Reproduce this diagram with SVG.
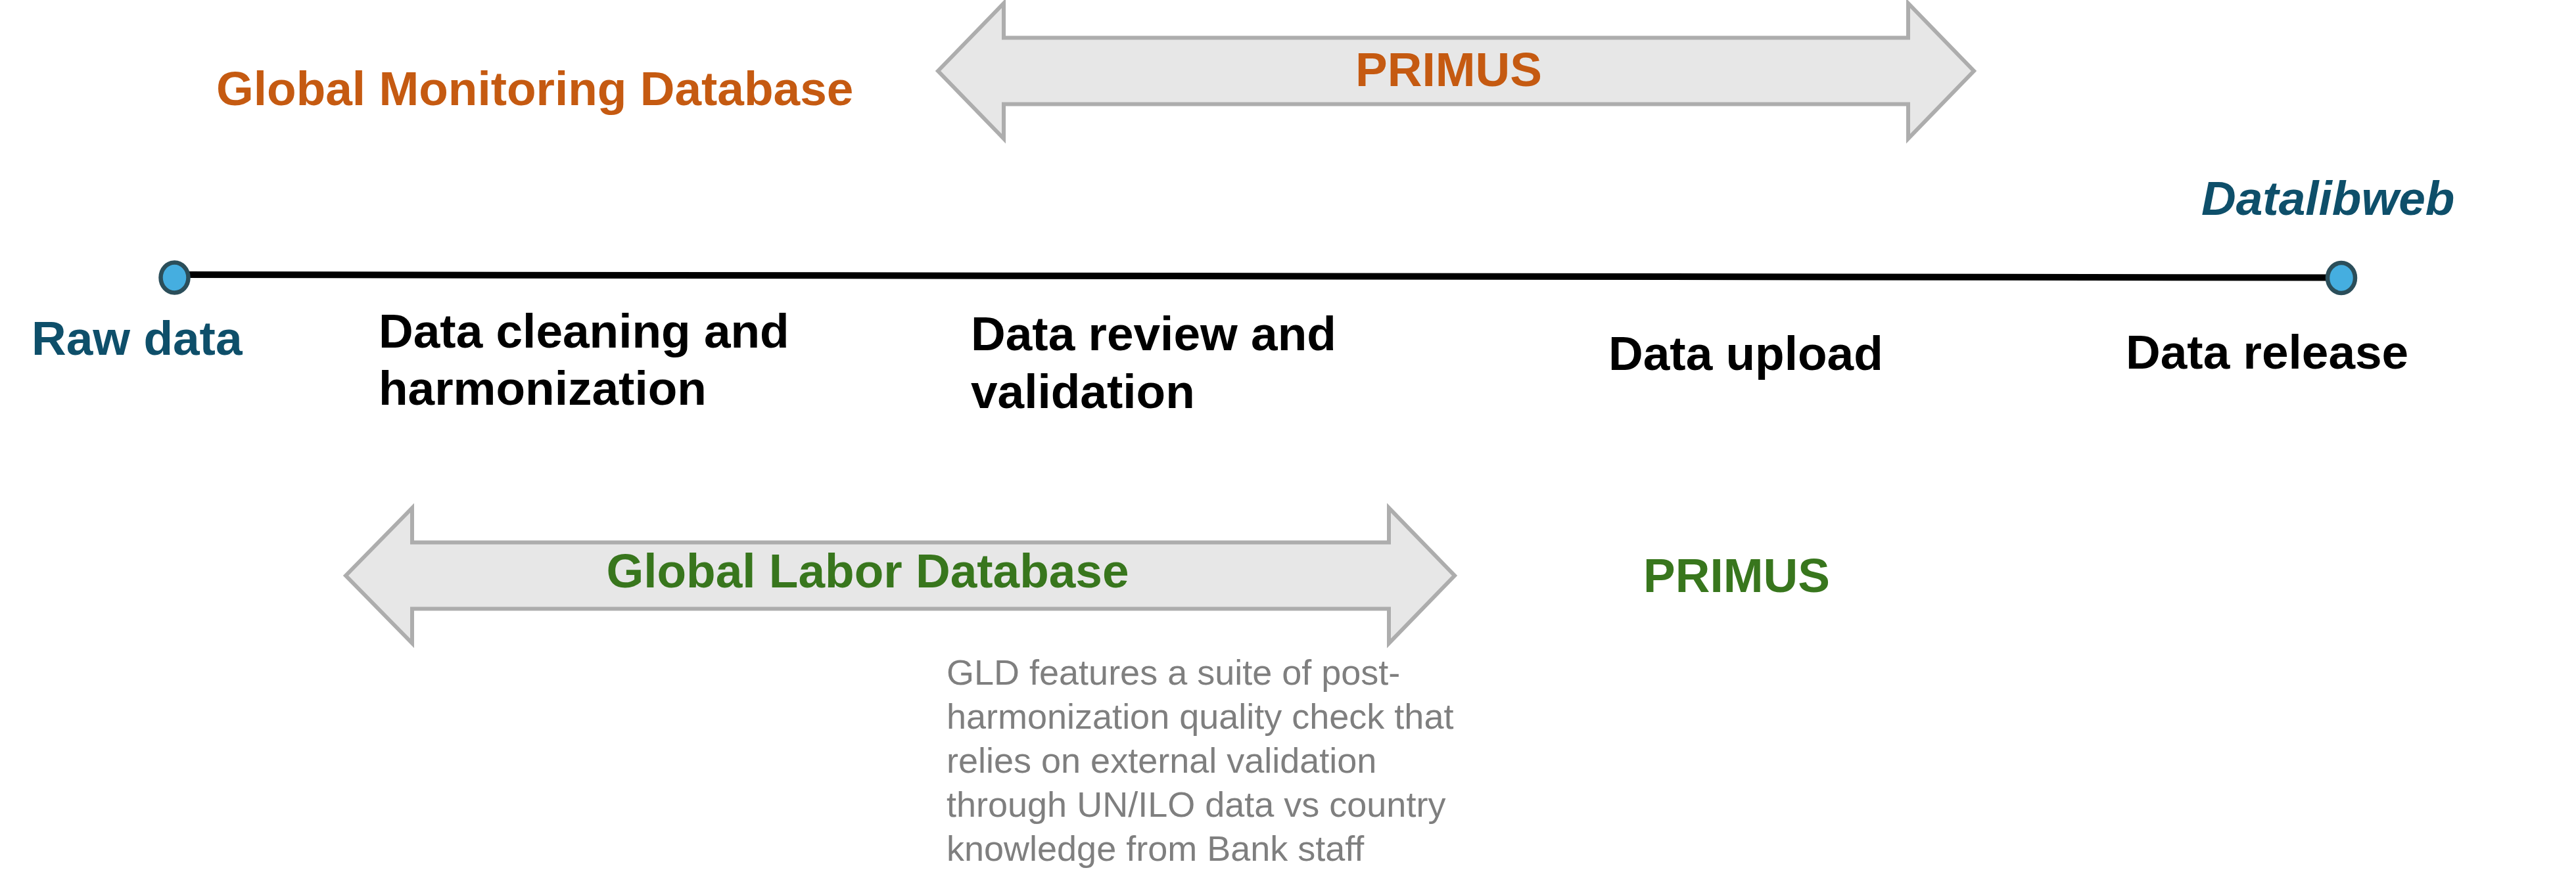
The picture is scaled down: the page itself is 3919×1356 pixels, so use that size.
<svg xmlns="http://www.w3.org/2000/svg" width="3919" height="1356" viewBox="0 0 3919 1356">
  <style>
    .t { font-family: "Liberation Sans", Arial, sans-serif; font-weight: bold; font-size: 73px; }
    .blk { fill: #000000; }
    .teal { fill: #0E4F6A; }
    .orange { fill: #C55A11; }
    .green { fill: #38761D; }
    .note { font-family: "Liberation Sans", Arial, sans-serif; font-size: 54px; fill: #7F7F7F; }
    .band { fill: #E7E7E7; stroke: #ADADAD; stroke-width: 6; stroke-linejoin: miter; }
    .dot { fill: #45AEE0; stroke: #2B4E5A; stroke-width: 6.5; }
  </style>
  <rect width="3919" height="1356" fill="#FFFFFF"/>

  <g id="connectors">
    <line x1="270" y1="418" x2="3560" y2="422.5" stroke="#000000" stroke-width="10"/>
  </g>

  <g id="primus-top-arrow">
    <path class="band" d="M1427,108 L1527,5 L1527,57.5 L2903,57.5 L2903,5 L3003,108 L2903,211 L2903,158.5 L1527,158.5 L1527,211 Z"/>
    <text class="t orange" x="2204" y="131" text-anchor="middle" font-size="72">PRIMUS</text>
  </g>

  <g id="gmd-label">
    <text class="t orange" x="329" y="160">Global Monitoring Database</text>
  </g>

  <g id="raw-data">
    <ellipse class="dot" cx="265.5" cy="422.5" rx="21" ry="23"/>
    <text class="t teal" x="48" y="540">Raw data</text>
  </g>

  <g id="data-release">
    <ellipse class="dot" cx="3562" cy="423" rx="21" ry="23"/>
    <text class="t blk" x="3234" y="561">Data release</text>
  </g>

  <g id="datalibweb">
    <text class="t teal" x="3349" y="327" font-style="italic">Datalibweb</text>
  </g>

  <g id="data-cleaning">
    <text class="t blk" x="576" y="529">Data cleaning and</text>
    <text class="t blk" x="576" y="616">harmonization</text>
  </g>

  <g id="data-review">
    <text class="t blk" x="1477" y="533">Data review and</text>
    <text class="t blk" x="1477" y="621">validation</text>
  </g>

  <g id="data-upload">
    <text class="t blk" x="2447" y="563">Data upload</text>
  </g>

  <g id="gld-arrow">
    <path class="band" d="M526,876 L627,773 L627,825.5 L2113,825.5 L2113,773 L2213,876 L2113,979 L2113,926.5 L627,926.5 L627,979 Z"/>
    <text class="t green" x="1320" y="894" text-anchor="middle">Global Labor Database</text>
  </g>

  <g id="primus-bottom">
    <text class="t green" x="2500" y="901" font-size="71.5">PRIMUS</text>
  </g>

  <g id="gld-note">
    <text class="note" x="1440" y="1042">GLD features a suite of post-</text>
    <text class="note" x="1440" y="1109">harmonization quality check that</text>
    <text class="note" x="1440" y="1176">relies on external validation</text>
    <text class="note" x="1440" y="1243">through UN/ILO data vs country</text>
    <text class="note" x="1440" y="1310">knowledge from Bank staff</text>
  </g>
</svg>
